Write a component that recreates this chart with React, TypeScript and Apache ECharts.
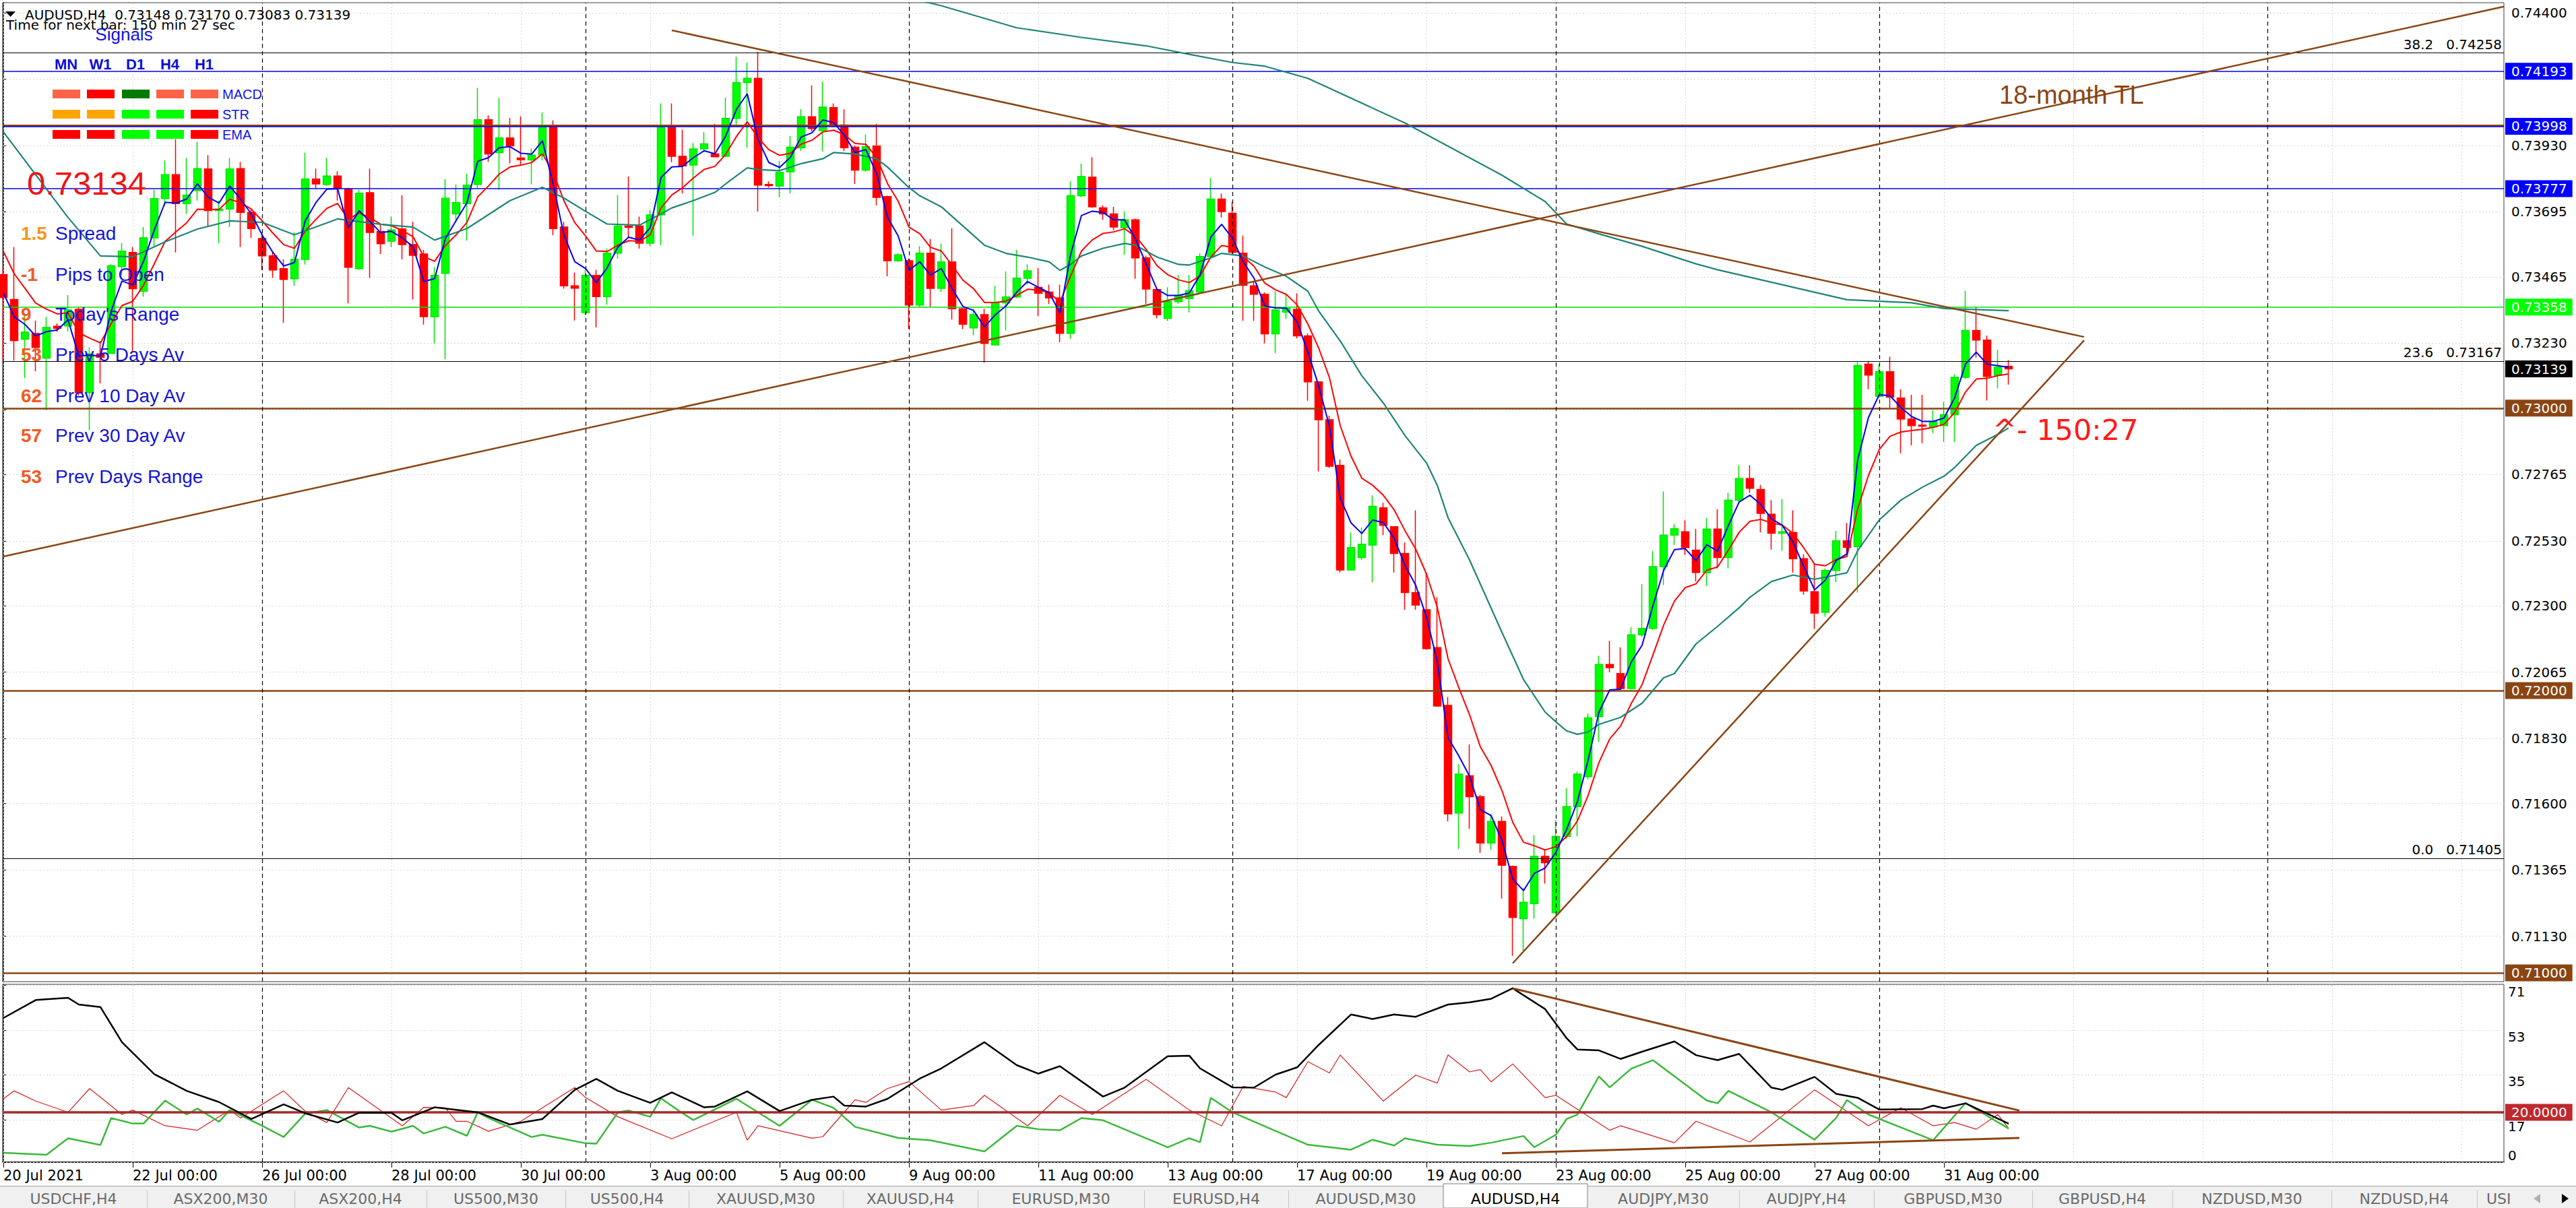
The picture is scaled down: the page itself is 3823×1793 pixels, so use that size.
import React, { useEffect, useRef } from 'react';
import * as echarts from 'echarts';

// ---------------- DATA ----------------
const opens = [
  0.73473,0.73385,0.73244,0.73264,0.73177,0.73290,0.73291,0.73350,0.73055,0.73192,
  0.73194,0.73501,0.73551,0.73414,0.73603,0.73742,0.73827,0.73724,0.73771,0.73847,
  0.73700,0.73705,0.73848,0.73693,0.73601,0.73539,0.73494,0.73458,0.73527,0.73811,
  0.73792,0.73822,0.73776,0.73494,0.73763,0.73626,0.73591,0.73635,0.73579,0.73546,
  0.73324,0.73477,0.73688,0.73724,0.73792,0.74021,0.73905,0.73957,0.73886,0.73879,
  0.73896,0.73995,0.73641,0.73433,0.73338,0.73470,0.73395,0.73549,0.73645,0.73645,
  0.73584,0.73684,0.73994,0.73892,0.73861,0.73918,0.73900,0.73892,0.74026,0.74153,
  0.74168,0.73792,0.73786,0.73837,0.73922,0.74032,0.73983,0.74064,0.74003,0.73924,
  0.73843,0.73928,0.73749,0.73522,0.73522,0.73365,0.73549,0.73424,0.73518,0.73352,
  0.73284,0.73331,0.73224,0.73373,0.73394,0.73460,0.73428,0.73411,0.73390,0.73265,
  0.73752,0.73818,0.73709,0.73688,0.73639,0.73667,0.73532,0.73420,0.73318,0.73377,
  0.73388,0.73411,0.73537,0.73740,0.73690,0.73549,0.73433,0.73403,0.73263,0.73340,
  0.73350,0.73256,0.73093,0.72959,0.72797,0.72427,0.72471,0.72515,0.72647,0.72580,
  0.72485,0.72347,0.72286,0.72152,0.71947,0.71566,0.71698,0.71624,0.71460,0.71536,
  0.71377,0.71192,0.71245,0.71413,0.71213,0.71483,0.71589,0.71695,0.71907,0.72092,
  0.72060,0.72007,0.72197,0.72220,0.72439,0.72550,0.72562,0.72497,0.72417,0.72572,
  0.72471,0.72674,0.72751,0.72712,0.72624,0.72557,0.72560,0.72467,0.72350,0.72277,
  0.72425,0.72530,0.72510,0.73156,0.73042,0.73129,0.73036,0.72961,0.72940,0.72933,
  0.72938,0.72977,0.73109,0.73275,0.73241,0.73117,0.73148,
];
const highs = [
  0.73500,0.73570,0.73329,0.73310,0.73324,0.73300,0.73400,0.73356,0.73215,0.73236,
  0.73510,0.73584,0.73570,0.73641,0.73773,0.73877,0.73952,0.73886,0.73943,0.73896,
  0.73735,0.73886,0.73872,0.73707,0.73622,0.73556,0.73527,0.73622,0.73905,0.73848,
  0.73886,0.73839,0.73780,0.73773,0.73848,0.73650,0.73678,0.73754,0.73660,0.73560,
  0.73499,0.73811,0.73792,0.73830,0.74134,0.74037,0.74099,0.74028,0.74033,0.73920,
  0.74047,0.74019,0.73660,0.73480,0.73489,0.73490,0.73565,0.73754,0.73820,0.73678,
  0.73701,0.74079,0.74079,0.73986,0.73939,0.73977,0.74007,0.74100,0.74245,0.74224,
  0.74262,0.73803,0.73875,0.73964,0.74058,0.74143,0.74156,0.74079,0.74058,0.73930,
  0.73969,0.74007,0.73752,0.73548,0.73530,0.73573,0.73599,0.73582,0.73637,0.73355,
  0.73352,0.73352,0.73433,0.73484,0.73560,0.73509,0.73496,0.73437,0.73437,0.73803,
  0.73866,0.73888,0.73718,0.73713,0.73696,0.73671,0.73540,0.73425,0.73428,0.73471,
  0.73471,0.73548,0.73815,0.73760,0.73730,0.73611,0.73446,0.73410,0.73414,0.73406,
  0.73406,0.73264,0.73095,0.72973,0.72818,0.72559,0.72577,0.72691,0.72665,0.72582,
  0.72524,0.72638,0.72418,0.72330,0.71977,0.71739,0.71809,0.71630,0.71563,0.71554,
  0.71380,0.71301,0.71488,0.71439,0.71541,0.71654,0.71713,0.71919,0.72123,0.72176,
  0.72153,0.72224,0.72377,0.72494,0.72705,0.72589,0.72603,0.72572,0.72611,0.72642,
  0.72700,0.72798,0.72798,0.72728,0.72674,0.72678,0.72638,0.72482,0.72448,0.72432,
  0.72565,0.72593,0.73163,0.73167,0.73156,0.73182,0.73067,0.73047,0.73047,0.72992,
  0.73023,0.73120,0.73415,0.73358,0.73257,0.73207,0.73170,
];
const lows = [
  0.73168,0.73168,0.73107,0.73130,0.72993,0.73270,0.73272,0.73045,0.72922,0.73088,
  0.73192,0.73470,0.73200,0.73395,0.73574,0.73716,0.73551,0.73688,0.73735,0.73641,
  0.73584,0.73641,0.73570,0.73603,0.73489,0.73461,0.73302,0.73433,0.73508,0.73778,
  0.73787,0.73735,0.73371,0.73489,0.73461,0.73546,0.73570,0.73527,0.73385,0.73296,
  0.73229,0.73173,0.73659,0.73593,0.73778,0.73872,0.73773,0.73867,0.73858,0.73792,
  0.73877,0.73612,0.73423,0.73310,0.73329,0.73286,0.73366,0.73530,0.73603,0.73565,
  0.73573,0.73577,0.73871,0.73760,0.73611,0.73905,0.73888,0.73888,0.74000,0.73922,
  0.73696,0.73781,0.73747,0.73760,0.73910,0.73980,0.73909,0.73995,0.73910,0.73794,
  0.73837,0.73718,0.73467,0.73518,0.73280,0.73360,0.73360,0.73411,0.73314,0.73280,
  0.73258,0.73161,0.73224,0.73275,0.73390,0.73437,0.73326,0.73369,0.73233,0.73246,
  0.73747,0.73709,0.73667,0.73630,0.73543,0.73458,0.73369,0.73318,0.73309,0.73370,
  0.73339,0.73407,0.73535,0.73675,0.73548,0.73309,0.73309,0.73229,0.73195,0.73317,
  0.73247,0.73026,0.72776,0.72788,0.72418,0.72427,0.72462,0.72383,0.72550,0.72418,
  0.72286,0.72286,0.72144,0.71942,0.71536,0.71439,0.71510,0.71425,0.71436,0.71263,
  0.71060,0.71078,0.71192,0.71316,0.71210,0.71474,0.71483,0.71686,0.71818,0.72065,
  0.72004,0.72004,0.72190,0.72215,0.72374,0.72515,0.72480,0.72386,0.72370,0.72432,
  0.72432,0.72660,0.72700,0.72560,0.72499,0.72495,0.72417,0.72339,0.72218,0.72261,
  0.72383,0.72479,0.72347,0.73067,0.73036,0.73001,0.72840,0.72868,0.72876,0.72911,
  0.72880,0.72880,0.73104,0.73179,0.73027,0.73070,0.73083,
];
const closes = [
  0.73392,0.73239,0.73269,0.73215,0.73286,0.73283,0.73348,0.73055,0.73192,0.73180,
  0.73504,0.73556,0.73423,0.73603,0.73742,0.73827,0.73724,0.73754,0.73848,0.73700,
  0.73705,0.73847,0.73693,0.73636,0.73539,0.73489,0.73456,0.73527,0.73811,0.73794,
  0.73822,0.73778,0.73499,0.73761,0.73622,0.73582,0.73631,0.73579,0.73541,0.73324,
  0.73470,0.73743,0.73728,0.73790,0.74021,0.73900,0.73957,0.73929,0.73880,0.73896,
  0.73995,0.73636,0.73433,0.73425,0.73470,0.73395,0.73549,0.73645,0.73640,0.73584,
  0.73684,0.73994,0.73892,0.73858,0.73918,0.73936,0.73890,0.74026,0.74153,0.74168,
  0.73790,0.73788,0.73835,0.73924,0.74032,0.73990,0.74066,0.74003,0.73922,0.73843,
  0.73926,0.73746,0.73522,0.73543,0.73365,0.73549,0.73424,0.73518,0.73352,0.73297,
  0.73331,0.73229,0.73373,0.73394,0.73460,0.73486,0.73407,0.73390,0.73265,0.73752,
  0.73820,0.73713,0.73688,0.73641,0.73667,0.73532,0.73422,0.73331,0.73377,0.73399,
  0.73416,0.73537,0.73740,0.73696,0.73552,0.73435,0.73403,0.73263,0.73348,0.73353,
  0.73256,0.73093,0.72959,0.72794,0.72427,0.72506,0.72518,0.72652,0.72585,0.72485,
  0.72347,0.72303,0.72148,0.71945,0.71563,0.71704,0.71624,0.71460,0.71536,0.71381,
  0.71196,0.71250,0.71413,0.71390,0.71483,0.71589,0.71704,0.71903,0.72092,0.72081,
  0.72007,0.72197,0.72220,0.72439,0.72550,0.72573,0.72506,0.72418,0.72572,0.72471,
  0.72674,0.72751,0.72716,0.72627,0.72557,0.72562,0.72467,0.72352,0.72274,0.72425,
  0.72530,0.72507,0.73151,0.73117,0.73129,0.73039,0.72961,0.72938,0.72936,0.72953,
  0.72977,0.73109,0.73275,0.73241,0.73112,0.73145,0.73139,
];

// time axis labels (bar index of each label)
const dateTickBars = [0, 12, 24, 36, 48, 60, 72, 84, 96, 108, 120, 132, 144, 156, 168, 180];
const dateTickLabels = ['20 Jul 2021', '22 Jul 00:00', '26 Jul 00:00', '28 Jul 00:00', '30 Jul 00:00', '3 Aug 00:00', '5 Aug 00:00', '9 Aug 00:00', '11 Aug 00:00', '13 Aug 00:00', '17 Aug 00:00', '19 Aug 00:00', '23 Aug 00:00', '25 Aug 00:00', '27 Aug 00:00', '31 Aug 00:00'];
const gridBars = [0, 12, 24, 36, 48, 60, 72, 84, 96, 108, 120, 132, 144, 156, 168, 180, 192, 204, 216, 228];
const weekSeparatorBars = [24, 54, 84, 114, 144, 174];
const mainOnlySeparatorBars = [210];

// price axis
const priceTickLabels = [0.744, 0.7393, 0.73695, 0.73465, 0.7323, 0.72765, 0.7253, 0.723, 0.72065, 0.7183, 0.716, 0.71365, 0.7113];
const priceGridTicks = [0.744, 0.74165, 0.7393, 0.73695, 0.73465, 0.7323, 0.72995, 0.72765, 0.7253, 0.723, 0.72065, 0.7183, 0.716, 0.71365, 0.7113];
const adxTickValues = [71, 53, 35, 17, 0];

// horizontal levels
const blueLevels = [0.74193, 0.73998, 0.73777];
const greenLevels = [0.73358];
const brownLevels = [0.73, 0.72, 0.71];
const roundLevels = [0.74];
const bidPrice = 0.73139;
const fibRatios = ['38.2', '23.6', '0.0'];
const fibPrices = [0.74258, 0.73167, 0.71405];
const adxLevel = 20;

// moving averages
const emaFastPeriod = 3;
const emaFastSeed = 0.73409;
const emaSlowPeriod = 7;
const emaSlowSeed = 0.73555;
const maMid = [
  [0, 0.73978], [6, 0.73675], [9, 0.73539], [12, 0.73536], [15, 0.73589], [18, 0.73634], [21, 0.73663], [24, 0.73658],
  [27, 0.73614], [31, 0.73670], [35, 0.73651], [38, 0.73641], [40, 0.73595], [43, 0.73636], [47, 0.73735], [50, 0.73782],
  [52, 0.73744], [54, 0.73697], [56, 0.73652], [59, 0.73648], [61, 0.73688], [62, 0.73709], [64, 0.73735], [66, 0.73764],
  [67, 0.73794], [69, 0.73851], [70, 0.73845], [72, 0.73841], [74, 0.73866], [76, 0.73883], [77, 0.73905], [79, 0.73900],
  [81, 0.73883], [82, 0.73854], [84, 0.73781], [85, 0.73752], [87, 0.73713], [89, 0.73645], [91, 0.73577], [93, 0.73548],
  [95, 0.73535], [97, 0.73518], [98, 0.73488], [99, 0.73509], [100, 0.73539], [102, 0.73566], [104, 0.73583], [105, 0.73577],
  [107, 0.73535], [109, 0.73509], [110, 0.73507], [112, 0.73532], [113, 0.73548], [115, 0.73539], [117, 0.73500], [119, 0.73467],
  [121, 0.73414], [122, 0.73344], [124, 0.73238], [126, 0.73115], [128, 0.73018], [130, 0.72903], [132, 0.72806], [133, 0.72727],
  [134, 0.72612], [136, 0.72462], [139, 0.72206], [141, 0.72039], [143, 0.71924], [144, 0.71889], [145, 0.71857], [146, 0.71845],
  [147, 0.71853], [148, 0.71880], [150, 0.71905], [152, 0.71955], [154, 0.72045], [155, 0.72060], [157, 0.72165], [159, 0.72227],
  [161, 0.72293], [162, 0.72330], [164, 0.72386], [166, 0.72409], [168, 0.72394], [170, 0.72409], [171, 0.72417], [172, 0.72495],
  [174, 0.72604], [176, 0.72674], [178, 0.72720], [180, 0.72759], [181, 0.72790], [183, 0.72868], [185, 0.72907], [186, 0.72930],
];
const maLong = [
  [80, 0.74490], [87, 0.74425], [94, 0.74347], [100, 0.74313], [106, 0.74283], [110, 0.74253], [114, 0.74224], [117, 0.74211],
  [121, 0.74168], [130, 0.74010], [139, 0.73825], [143, 0.73732], [145, 0.73652], [148, 0.73617], [152, 0.73573], [157, 0.73511],
  [159, 0.73490], [171, 0.73384], [177, 0.73373], [180, 0.73353], [186, 0.73345],
];

// trend lines [bar, price]
const trend18Month = [[-0.0625, 0.72474], [231.9375, 0.74422]];
const trendFromHigh = [[62, 0.74338], [193, 0.73252]];
const trendFromLow = [[140, 0.71034], [193, 0.73240]];

// ADX(14) panel [bar, value]
const adxLine = [
  [0, 57.8], [3, 65.0], [6, 65.9], [7, 63.2], [9, 62.2], [11, 48.1], [14, 35.3], [17, 28.6], [20, 24.1], [23, 17.3],
  [26, 23.2], [28, 19.6], [31, 15.9], [33, 19.8], [36, 19.8], [37, 16.8], [40, 22.0], [44, 20.0], [47, 15.1], [50, 17.3],
  [53, 29.0], [55, 33.4], [57, 28.6], [60, 23.8], [62, 28.0], [65, 22.0], [66, 22.3], [69, 28.4], [72, 20.5], [75, 25.0],
  [77, 26.3], [78, 22.7], [80, 22.3], [82, 25.4], [85, 33.5], [87, 37.6], [91, 48.1], [94, 38.9], [96, 35.5], [98, 38.5],
  [102, 26.3], [104, 29.9], [108, 42.5], [110, 42.7], [111, 37.6], [114, 30.0], [116, 29.9], [118, 35.1], [120, 38.0], [122, 47.0],
  [125, 59.2], [127, 57.4], [129, 59.2], [131, 58.3], [134, 63.2], [136, 64.1], [138, 65.5], [140, 69.7], [143, 61.4], [145, 49.7],
  [146, 45.2], [148, 44.8], [150, 41.4], [152, 44.3], [155, 48.4], [157, 42.9], [159, 40.9], [161, 43.4], [164, 29.9], [165, 29.0],
  [168, 34.2], [170, 27.4], [172, 25.8], [174, 21.1], [178, 21.3], [179, 22.7], [180, 21.6], [182, 23.6], [186, 15.45],
];
const plusDI = [
  [0, 3.8], [4, 3.0], [6, 9.6], [9, 6.9], [10, 17.7], [12, 15.5], [13, 15.5], [15, 24.7], [17, 19.1], [18, 21.5],
  [20, 16.2], [21, 20.9], [24, 14.6], [26, 10.1], [28, 19.5], [30, 20.9], [33, 13.9], [34, 14.6], [36, 12.2], [38, 14.6],
  [39, 11.5], [41, 14.2], [43, 10.6], [44, 20.0], [45, 17.7], [49, 10.1], [50, 11.0], [54, 7.6], [55, 7.4], [57, 20.0],
  [58, 20.7], [60, 18.2], [61, 25.6], [63, 19.6], [64, 16.9], [68, 25.4], [72, 14.6], [75, 25.0], [77, 21.8], [79, 14.2],
  [83, 9.7], [86, 8.8], [91, 4.3], [94, 14.6], [96, 13.2], [98, 12.8], [100, 17.7], [102, 16.8], [108, 6.0], [110, 9.6],
  [111, 8.0], [112, 25.8], [114, 20.0], [118, 12.5], [121, 7.0], [125, 5.0], [127, 9.0], [129, 6.7], [130, 9.6], [133, 7.0],
  [136, 6.5], [138, 7.8], [141, 10.5], [142, 6.0], [144, 11.0], [145, 17.3], [146, 19.1], [148, 34.4], [149, 30.0], [151, 37.5],
  [153, 40.9], [158, 24.7], [159, 23.6], [160, 28.6], [164, 20.0], [168, 9.0], [170, 17.7], [171, 24.9], [173, 19.1], [179, 8.8],
  [182, 23.7], [186, 13.47],
];
const minusDI = [
  [0, 25.4], [1, 28.6], [3, 24.5], [6, 20.0], [8, 29.5], [11, 19.1], [12, 20.9], [15, 14.6], [18, 12.8], [21, 20.9],
  [22, 17.7], [26, 28.6], [28, 20.4], [30, 15.9], [32, 29.9], [37, 14.6], [39, 22.0], [41, 21.8], [42, 16.4], [43, 16.4],
  [45, 12.4], [48, 16.4], [53, 29.9], [54, 25.9], [57, 18.2], [62, 9.4], [68, 20.0], [69, 8.8], [70, 14.6], [75, 9.6],
  [76, 10.2], [79, 25.0], [80, 24.0], [82, 29.5], [84, 32.3], [87, 20.9], [90, 22.7], [91, 26.8], [95, 14.6], [98, 26.8],
  [101, 19.1], [106, 33.2], [110, 20.9], [113, 14.6], [115, 30.4], [118, 28.1], [119, 25.9], [121, 40.3], [123, 35.8], [124, 43.0],
  [128, 24.5], [131, 34.9], [133, 31.7], [134, 43.0], [136, 36.2], [137, 37.1], [138, 32.2], [140, 39.4], [143, 25.9], [144, 26.8],
  [149, 12.8], [150, 14.6], [155, 7.8], [157, 16.4], [162, 8.1], [168, 29.0], [173, 14.6], [176, 21.8], [179, 14.6], [181, 15.9],
  [183, 13.2], [185, 19.1], [186, 13.55],
];
const adxTrendDown = [[140, 69.7], [187, 20.7]];
const adxTrendUp = [[139, 3.6], [187, 9.7]];

// on-chart panel texts
const signalTimeframes = ['MN', 'W1', 'D1', 'H4', 'H1'];
const signalRows = ['MACD', 'STR', 'EMA'];
const signalStates = [
  ['weakDown', 'down', 'strongUp', 'weakDown', 'weakDown'],
  ['flat', 'flat', 'up', 'up', 'down'],
  ['down', 'down', 'up', 'up', 'down'],
];
const infoValues = ['1.5', '-1', '9', '53', '62', '57', '53'];
const infoLabels = ['Spread', 'Pips to Open', "Today's Range", 'Prev 5 Days Av', 'Prev 10 Day Av', 'Prev 30 Day Av', 'Prev Days Range'];
const tabNames = ['USDCHF,H4', 'ASX200,M30', 'ASX200,H4', 'US500,M30', 'US500,H4', 'XAUUSD,M30', 'XAUUSD,H4', 'EURUSD,M30', 'EURUSD,H4', 'AUDUSD,M30', 'AUDUSD,H4', 'AUDJPY,M30', 'AUDJPY,H4', 'GBPUSD,M30', 'GBPUSD,H4', 'NZDUSD,M30', 'NZDUSD,H4', 'USI'];
const activeTab = 'AUDUSD,H4';

// ---------------- LAYOUT / STYLE ----------------
const W = 3823;
const H = 1793;
const PLOT_LEFT = 4;
const PLOT_RIGHT = 3716;
const MAIN_TOP = 4;
const MAIN_BOTTOM = 1457;
const ADX_TOP = 1461;
const ADX_BOTTOM = 1725;
const BAR_PX = 16;
const FIRST_BAR_X = 5;
const X_MIN = (PLOT_LEFT - FIRST_BAR_X) / BAR_PX;
const X_MAX = (PLOT_RIGHT - FIRST_BAR_X) / BAR_PX;
const Y_MAX = 0.744358;
const Y_MIN = 0.70969;
const ADX_MAX = 71.3;
const TAB_EDGES = [218, 437, 633, 839, 1022, 1251, 1451, 1698, 1912, 2142, 2356, 2581, 2781, 3016, 3224, 3460, 3676, 3823];
const SIGNAL_COLORS: Record<string, string> = { weakDown: '#FF6347', down: '#FF0000', strongUp: '#007A00', up: '#00FF00', flat: '#FFA500' };
const BROWN = '#8B4513';
const AXIS_FONT = '"DejaVu Sans", Verdana, sans-serif';
const ARIAL = '"Liberation Sans", Arial, sans-serif';

function ema(values: number[], period: number, seed: number): number[] {
  const k = 2 / (period + 1);
  const out: number[] = [];
  let prev = seed;
  values.forEach((v, i) => {
    prev = i === 0 ? seed : prev + k * (v - prev);
    out.push(prev);
  });
  return out;
}

function txt(x: number, y: number, text: string, font: string, fill: string, align = 'left', vAlign = 'middle') {
  return {
    type: 'text', x, y, z: 100, silent: true,
    style: { text, font, fill, align, verticalAlign: vAlign, textAlign: align, textVerticalAlign: vAlign },
  };
}

function boxLabel(price: number, bg: string) {
  return {
    show: true, position: 'end', distance: 2, formatter: price.toFixed(5),
    backgroundColor: bg, color: '#FFFFFF', padding: [3, 8, 2, 9],
    fontFamily: AXIS_FONT, fontSize: 20,
  };
}

function buildGraphics() {
  const g: any[] = [];
  // title
  g.push({ type: 'polygon', z: 100, silent: true, shape: { points: [[8, 17], [23, 17], [15.5, 25]] }, style: { fill: '#000' } });
  g.push(txt(37, 22, 'AUDUSD,H4  0.73148 0.73170 0.73083 0.73139', '20px ' + AXIS_FONT, '#000'));
  g.push(txt(9, 37, 'Time for next bar: 150 min 27 sec', '20px ' + AXIS_FONT, '#000'));
  g.push(txt(184, 51, 'Signals', '26px ' + ARIAL, '#1212E6', 'center'));
  const colX = [78, 129, 181, 232, 283];
  const rowY = [133, 163, 193];
  signalTimeframes.forEach((tf, i) => g.push(txt(colX[i] + 20, 95, tf, 'bold 22px ' + ARIAL, '#0B0BD8', 'center')));
  signalRows.forEach((row, r) => {
    signalStates[r].forEach((st, c) => {
      g.push({ type: 'rect', z: 100, silent: true, shape: { x: colX[c], y: rowY[r], width: 41, height: 13 }, style: { fill: SIGNAL_COLORS[st] } });
    });
    g.push(txt(330, rowY[r] + 7, row, '20px ' + ARIAL, '#1212E6'));
  });
  g.push(txt(40, 272, '0.73134', '49px ' + ARIAL, '#F01414'));
  const infoY = [346, 407, 466, 526, 587, 646, 707];
  infoValues.forEach((v, i) => {
    g.push(txt(31, infoY[i], v, 'bold 28px ' + ARIAL, i === 0 ? '#F7941D' : '#F25A22'));
    g.push(txt(82, infoY[i], infoLabels[i], '28px ' + ARIAL, '#1414D8'));
  });
  g.push(txt(2967, 141, '18-month TL', '38px ' + ARIAL, BROWN));
  g.push(txt(2957, 638, '^- 150:27', '43px ' + AXIS_FONT, '#FF1A1A'));

  // tab strip
  g.push({ type: 'rect', z: 90, silent: true, shape: { x: 0, y: 1760, width: W, height: H - 1760 }, style: { fill: '#F0F0F0' } });
  g.push({ type: 'line', z: 91, silent: true, shape: { x1: 0, y1: 1760.5, x2: W, y2: 1760.5 }, style: { stroke: '#A0A0A0', lineWidth: 1 } });
  tabNames.forEach((name, i) => {
    const x0 = i === 0 ? 0 : TAB_EDGES[i - 1];
    const x1 = TAB_EDGES[i];
    const active = name === activeTab;
    if (active) {
      g.push({ type: 'rect', z: 92, silent: true, shape: { x: x0, y: 1757, width: x1 - x0, height: H - 1757 }, style: { fill: '#FFFFFF', stroke: '#808080', lineWidth: 1 } });
    } else if (i < tabNames.length - 1) {
      g.push({ type: 'line', z: 92, silent: true, shape: { x1: x1 + 0.5, y1: 1767, x2: x1 + 0.5, y2: H }, style: { stroke: '#C4C4C4', lineWidth: 1 } });
    }
    const last = i === tabNames.length - 1;
    const cx = last ? x0 + 14 : (x0 + x1) / 2;
    g.push(txt(cx, 1779, name, '22px ' + AXIS_FONT, active ? '#000' : '#6A6A6A', last ? 'left' : 'center'));
  });
  g.push({ type: 'rect', z: 95, silent: true, shape: { x: 3745, y: 1764, width: 78, height: 29 }, style: { fill: '#F0F0F0' } });
  g.push({ type: 'polygon', z: 96, silent: true, shape: { points: [[3770, 1772], [3760, 1779], [3770, 1786]] }, style: { fill: '#B0B0B0' } });
  g.push({ type: 'polygon', z: 96, silent: true, shape: { points: [[3802, 1772], [3812, 1779], [3802, 1786]] }, style: { fill: '#000' } });
  return g;
}

function buildOption() {
  const bars = closes.map((_, i) => i);
  const candles = bars.map((i) => [i, opens[i], closes[i], lows[i], highs[i]]);
  const fast = ema(closes, emaFastPeriod, emaFastSeed).map((v, i) => [i, v]);
  const slow = ema(closes, emaSlowPeriod, emaSlowSeed).map((v, i) => [i, v]);

  const faintGrid = [
    ...priceGridTicks.map((p) => ({ yAxis: p })),
    ...gridBars.map((b) => ({ xAxis: b })),
  ];
  const separators = weekSeparatorBars.map((b) => ({ xAxis: b }));
  const sepStyle = { color: '#000', width: 1.2, type: [6, 5] };

  const levelLines: any[] = [
    ...roundLevels.map((p) => ({ yAxis: p, lineStyle: { color: BROWN, width: 3, type: 'solid' }, label: { show: false } })),
    ...blueLevels.map((p) => ({ yAxis: p, lineStyle: { color: '#0000FF', width: 1.5, type: 'solid' }, label: boxLabel(p, '#0000FF') })),
    ...greenLevels.map((p) => ({ yAxis: p, lineStyle: { color: '#00E000', width: 1.5, type: 'solid' }, label: boxLabel(p, '#00FF00') })),
    ...brownLevels.map((p) => ({ yAxis: p, lineStyle: { color: BROWN, width: 2.5, type: 'solid' }, label: boxLabel(p, BROWN) })),
    ...fibPrices.map((p, i) => ({
      yAxis: p, lineStyle: { color: '#000', width: 1.2, type: 'solid' },
      label: { show: true, position: 'insideEndTop', distance: 3, formatter: fibRatios[i] + '   ' + p.toFixed(5), color: '#000', fontFamily: AXIS_FONT, fontSize: 20 },
    })),
    { yAxis: bidPrice, lineStyle: { color: 'rgba(255,255,255,0)', width: 1, type: 'solid' }, label: boxLabel(bidPrice, '#000000') },
    ...separators.map((s) => ({ ...s, lineStyle: sepStyle, label: { show: false } })),
    ...mainOnlySeparatorBars.map((b) => ({ xAxis: b, lineStyle: sepStyle, label: { show: false } })),
  ];

  const lineBase = { type: 'line', showSymbol: false, symbol: 'none', silent: true, clip: true };

  return {
    animation: false,
    backgroundColor: '#FFFFFF',
    grid: [
      { left: PLOT_LEFT, top: MAIN_TOP, width: PLOT_RIGHT - PLOT_LEFT, height: MAIN_BOTTOM - MAIN_TOP, show: true, borderColor: '#3A3A3A', borderWidth: 1, backgroundColor: 'transparent' },
      { left: PLOT_LEFT, top: ADX_TOP, width: PLOT_RIGHT - PLOT_LEFT, height: ADX_BOTTOM - ADX_TOP, show: true, borderColor: '#3A3A3A', borderWidth: 1, backgroundColor: 'transparent' },
    ],
    xAxis: [
      { gridIndex: 0, type: 'value', min: X_MIN, max: X_MAX, axisLine: { show: false }, axisTick: { show: false }, axisLabel: { show: false }, splitLine: { show: false } },
      {
        gridIndex: 1, type: 'value', min: X_MIN, max: X_MAX,
        axisLine: { show: true, onZero: false, lineStyle: { color: '#000', width: 1.5 } },
        axisTick: { show: true, customValues: dateTickBars, length: 8, lineStyle: { color: '#000' } },
        axisLabel: {
          show: true, customValues: dateTickBars, align: 'left', margin: 9, color: '#000', fontFamily: AXIS_FONT, fontSize: 21,
          formatter: (v: number) => { const i = dateTickBars.indexOf(Math.round(v)); return i >= 0 ? dateTickLabels[i] : ''; },
        },
        splitLine: { show: false },
      },
    ],
    yAxis: [
      {
        gridIndex: 0, type: 'value', position: 'right', min: Y_MIN, max: Y_MAX,
        axisLine: { show: true, lineStyle: { color: '#000', width: 1.5 } },
        axisTick: { show: true, customValues: priceGridTicks, length: 5, lineStyle: { color: '#000' } },
        axisLabel: { show: true, customValues: priceTickLabels, margin: 11, color: '#000', fontFamily: AXIS_FONT, fontSize: 20, formatter: (v: number) => v.toFixed(5) },
        splitLine: { show: false },
      },
      {
        gridIndex: 1, type: 'value', position: 'right', min: 0, max: ADX_MAX,
        axisLine: { show: true, lineStyle: { color: '#000', width: 1.5 } },
        axisTick: { show: true, customValues: adxTickValues, length: 5, lineStyle: { color: '#000' } },
        axisLabel: { show: true, customValues: adxTickValues.filter((v) => v > 0), verticalAlign: 'top', margin: 6, color: '#000', fontFamily: AXIS_FONT, fontSize: 20, formatter: (v: number) => String(v) },
        splitLine: { show: false },
      },
      {
        gridIndex: 1, type: 'value', position: 'right', min: 0, max: ADX_MAX,
        axisLine: { show: false }, axisTick: { show: false },
        axisLabel: { show: true, customValues: adxTickValues.filter((v) => v === 0), verticalAlign: 'bottom', margin: 6, color: '#000', fontFamily: AXIS_FONT, fontSize: 20, formatter: (v: number) => String(v) },
        splitLine: { show: false },
      },
    ],
    graphic: buildGraphics(),
    series: [
      {
        ...lineBase, name: 'grid', xAxisIndex: 0, yAxisIndex: 0, data: [[X_MIN, Y_MIN]], lineStyle: { opacity: 0 }, z: 1,
        markLine: { silent: true, z: 1, precision: 6, symbol: ['none', 'none'], label: { show: false }, lineStyle: { color: '#D6D6D6', width: 1, type: [2, 3] }, data: faintGrid },
      },
      {
        type: 'candlestick', name: 'AUDUSD', xAxisIndex: 0, yAxisIndex: 0, data: candles, barWidth: 11, silent: true, z: 3, clip: true,
        itemStyle: { color: '#00FF00', color0: '#FF0000', borderColor: '#00E400', borderColor0: '#FF0000', borderWidth: 1.5, borderColorDoji: '#FF0000' },
        markLine: { silent: true, z: 4, precision: 6, symbol: ['none', 'none'], data: levelLines },
      },
      { ...lineBase, name: 'EMA slow', xAxisIndex: 0, yAxisIndex: 0, data: slow, lineStyle: { color: '#FF0000', width: 2 }, z: 5 },
      { ...lineBase, name: 'EMA fast', xAxisIndex: 0, yAxisIndex: 0, data: fast, lineStyle: { color: '#0000EE', width: 2 }, z: 6 },
      { ...lineBase, name: 'MA mid', xAxisIndex: 0, yAxisIndex: 0, data: maMid, lineStyle: { color: '#1E8478', width: 2.2 }, z: 5 },
      { ...lineBase, name: 'MA long', xAxisIndex: 0, yAxisIndex: 0, data: maLong, lineStyle: { color: '#1E8478', width: 2.2 }, z: 5 },
      { ...lineBase, name: '18-month TL', xAxisIndex: 0, yAxisIndex: 0, data: trend18Month, lineStyle: { color: BROWN, width: 2.5 }, z: 7 },
      { ...lineBase, name: 'TL high', xAxisIndex: 0, yAxisIndex: 0, data: trendFromHigh, lineStyle: { color: BROWN, width: 2.5 }, z: 7 },
      { ...lineBase, name: 'TL low', xAxisIndex: 0, yAxisIndex: 0, data: trendFromLow, lineStyle: { color: BROWN, width: 2.5 }, z: 7 },

      {
        ...lineBase, name: 'adx grid', xAxisIndex: 1, yAxisIndex: 1, data: [[X_MIN, 0]], lineStyle: { opacity: 0 }, z: 1,
        markLine: {
          silent: true, z: 1, precision: 6, symbol: ['none', 'none'], label: { show: false },
          data: [
            ...gridBars.map((b) => ({ xAxis: b, lineStyle: { color: '#D6D6D6', width: 1, type: [2, 3] } })),
            ...adxTickValues.map((v) => ({ yAxis: v, lineStyle: { color: '#D6D6D6', width: 1, type: [2, 3] } })),
            ...separators.map((s) => ({ ...s, lineStyle: sepStyle })),
          ],
        },
      },
      {
        ...lineBase, name: '-DI', xAxisIndex: 1, yAxisIndex: 1, data: minusDI, lineStyle: { color: '#D41C1C', width: 1.2 }, z: 3,
        markLine: {
          silent: true, z: 4, precision: 4, symbol: ['none', 'none'],
          data: [{ yAxis: adxLevel, lineStyle: { color: '#A52A2A', width: 3.5, type: 'solid' }, label: { ...boxLabel(adxLevel, '#C0282D'), formatter: adxLevel.toFixed(4) } }],
        },
      },
      { ...lineBase, name: '+DI', xAxisIndex: 1, yAxisIndex: 1, data: plusDI, lineStyle: { color: '#3BB83B', width: 2.5 }, z: 3 },
      { ...lineBase, name: 'ADX', xAxisIndex: 1, yAxisIndex: 1, data: adxLine, lineStyle: { color: '#000000', width: 2.5 }, z: 5 },
      { ...lineBase, name: 'ADX TL down', xAxisIndex: 1, yAxisIndex: 1, data: adxTrendDown, lineStyle: { color: BROWN, width: 3 }, z: 6 },
      { ...lineBase, name: 'ADX TL up', xAxisIndex: 1, yAxisIndex: 1, data: adxTrendUp, lineStyle: { color: BROWN, width: 3 }, z: 6 },
    ],
  };
}

export default function App() {
  const ref = useRef<HTMLDivElement>(null);
  useEffect(() => {
    document.body.style.margin = '0';
    document.body.style.overflow = 'hidden';
    if (!ref.current) return;
    const chart = echarts.init(ref.current, null, { renderer: 'svg', width: W, height: H });
    chart.setOption(buildOption() as any);
    return () => chart.dispose();
  }, []);
  return <div ref={ref} style={{ width: W, height: H, background: '#fff' }} />;
}
